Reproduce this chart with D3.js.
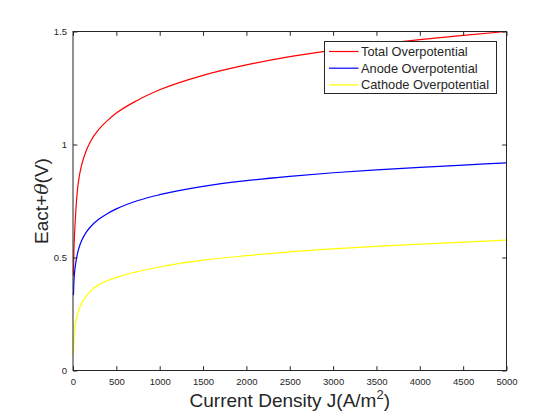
<!DOCTYPE html>
<html>
<head>
<meta charset="utf-8">
<script src="https://cdn.jsdelivr.net/npm/d3@7"></script>
<style>
  body { margin: 0; background: #fff; }
  text { font-family: "Liberation Sans", Arial, sans-serif; fill: #262626; }
</style>
</head>
<body>
<svg id="chart" width="560" height="420"></svg>
<script>
// values
var currentDensity = [5, 10, 20, 30, 50, 75, 100, 150, 200, 300, 400, 500, 750, 1000, 1500, 2000, 2500, 3000, 3500, 4000, 4500, 5000];
var totalOver   = [0.42, 0.52, 0.62, 0.69, 0.795, 0.865, 0.91, 0.97, 1.012, 1.068, 1.107, 1.139, 1.197, 1.242, 1.306, 1.352, 1.389, 1.418, 1.443, 1.464, 1.483, 1.50];
var anodeOver   = [0.333, 0.39, 0.44, 0.47, 0.515, 0.55, 0.575, 0.61, 0.635, 0.67, 0.695, 0.715, 0.752, 0.778, 0.815, 0.84, 0.859, 0.875, 0.888, 0.899, 0.909, 0.919];
var cathodeOver = [0.068, 0.13, 0.18, 0.21, 0.245, 0.275, 0.298, 0.328, 0.35, 0.38, 0.398, 0.412, 0.438, 0.458, 0.488, 0.508, 0.525, 0.538, 0.549, 0.559, 0.568, 0.577];
var seriesNames = ["Total Overpotential", "Anode Overpotential", "Cathode Overpotential"];
var seriesColors = ["#ff0000", "#0000ff", "#ffff00"];
var xTicks = [0, 500, 1000, 1500, 2000, 2500, 3000, 3500, 4000, 4500, 5000];
var yTicks = [0, 0.5, 1, 1.5];

var svg = d3.select("#chart");
var plotLeft = 73, plotRight = 506.5, plotTop = 31.5, plotBottom = 370.5;

var x = d3.scaleLinear().domain([0, 5000]).range([plotLeft, plotRight]);
var y = d3.scaleLinear().domain([0, 1.5]).range([plotBottom, plotTop]);

// curves
var allSeries = [totalOver, anodeOver, cathodeOver];
var line = d3.line()
  .x(function(d, i) { return x(currentDensity[i]); })
  .y(function(d) { return y(d); })
  .curve(d3.curveMonotoneX);

allSeries.forEach(function(s, k) {
  svg.append("path")
    .attr("d", line(s))
    .attr("fill", "none")
    .attr("stroke", seriesColors[k])
    .attr("stroke-width", 1.2);
});

// axes (ticks inward, box on)
var tl = 4.3;
var axisColor = "#262626";
function styleAxis(g) {
  g.select(".domain").remove();
  g.selectAll("line").attr("stroke", axisColor);
  g.selectAll("text").style("font-size", "9.5px").attr("fill", axisColor);
}
svg.append("g").attr("transform", "translate(0," + plotBottom + ")")
  .call(d3.axisBottom(x).tickValues(xTicks).tickSizeInner(-tl).tickSizeOuter(0).tickPadding(8).tickFormat(d3.format("d")))
  .call(styleAxis);
svg.append("g").attr("transform", "translate(0," + plotTop + ")")
  .call(d3.axisTop(x).tickValues(xTicks).tickSizeInner(-tl).tickSizeOuter(0).tickFormat(""))
  .call(styleAxis);
svg.append("g").attr("transform", "translate(" + plotLeft + ",0)")
  .call(d3.axisLeft(y).tickValues(yTicks).tickSizeInner(-tl).tickSizeOuter(0).tickPadding(6).tickFormat(function(d) { return d; }))
  .call(styleAxis);
svg.append("g").attr("transform", "translate(" + plotRight + ",0)")
  .call(d3.axisRight(y).tickValues(yTicks).tickSizeInner(-tl).tickSizeOuter(0).tickFormat(""))
  .call(styleAxis);

svg.append("rect")
  .attr("x", plotLeft).attr("y", plotTop)
  .attr("width", plotRight - plotLeft).attr("height", plotBottom - plotTop)
  .attr("fill", "none").attr("stroke", axisColor).attr("stroke-width", 1);

// axis labels
var xl = svg.append("text")
  .attr("x", (plotLeft + plotRight) / 2).attr("y", 407)
  .attr("text-anchor", "middle")
  .style("font-size", "19px");
xl.append("tspan").text("Current Density J(A/m");
xl.append("tspan").attr("dy", -8).style("font-size", "13px").text("2");
xl.append("tspan").attr("dy", 8).text(")");

var yl = svg.append("text")
  .attr("transform", "translate(48," + (plotTop + plotBottom) / 2 + ") rotate(-90)")
  .attr("text-anchor", "middle")
  .style("font-size", "19px");
yl.append("tspan").text("Eact+");
yl.append("tspan").style("font-family", "'DejaVu Serif', 'Liberation Serif', serif").style("font-style", "italic").text("θ");
yl.append("tspan").text("(V)");

// legend
var lg = svg.append("g");
lg.append("rect")
  .attr("x", 324.5).attr("y", 41.5).attr("width", 172).attr("height", 52)
  .attr("fill", "#fff").attr("stroke", axisColor).attr("stroke-width", 1);
seriesNames.forEach(function(name, k) {
  var yy = 51.5 + k * 16.7;
  lg.append("line")
    .attr("x1", 329).attr("x2", 358.5).attr("y1", yy).attr("y2", yy)
    .attr("stroke", seriesColors[k]).attr("stroke-width", 1.2);
  lg.append("text")
    .attr("x", 361).attr("y", yy + 4.4)
    .style("font-size", "12.8px")
    .text(name);
});
</script>
</body>
</html>
